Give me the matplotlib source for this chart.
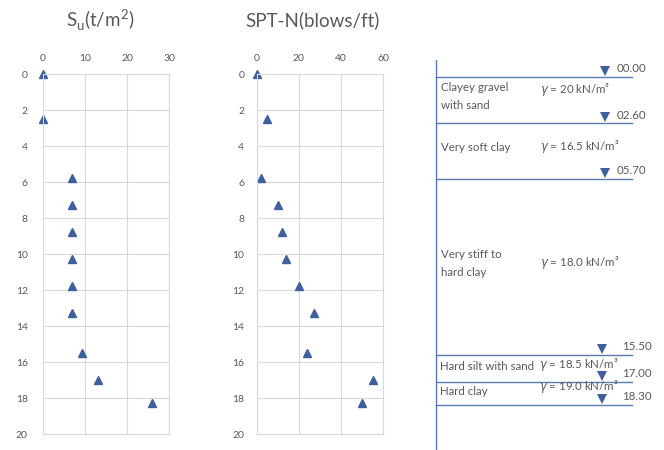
import matplotlib
matplotlib.use('Agg')
import matplotlib.pyplot as plt

plt.rcParams['font.family'] = ['Lato', 'DejaVu Sans']
plt.rcParams['mathtext.fontset'] = 'custom'
plt.rcParams['mathtext.rm'] = 'Lato'

# depth (m) of each test
depth = [0.0, 2.5, 5.75, 7.25, 8.75, 10.25, 11.75, 13.25, 15.5, 17.0, 18.3]
su = [0, 0, 6.8, 6.8, 6.8, 6.8, 6.8, 6.8, 9.4, 13.2, 25.9]
spt = [0, 5, 2, 10, 12, 14, 20, 27, 24, 55, 50]

# soil profile
layer_top = [0.0, 2.6, 5.7, 15.5, 17.0]
layer_bot = [2.6, 5.7, 15.5, 17.0, 18.3]
layer_name = ['Clayey gravel\nwith sand', 'Very soft clay', 'Very stiff to\nhard clay',
              'Hard silt with sand', 'Hard clay']
layer_gamma = ['20', '16.5', '18.0', '18.5', '19.0']
levels = [0.0, 2.6, 5.7, 15.5, 17.0, 18.3]
level_lbl = ['00.00', '02.60', '05.70', '15.50', '17.00', '18.30']

grey = '#595959'
blue = '#3f5fa0'
line_c = '#5a7bb0'

fig = plt.figure(figsize=(6.64, 4.5), dpi=100)


def depth_axes(rect, x, xmax, xstep, pad):
    ax = fig.add_axes(rect)
    ax.plot(x, depth, linestyle='none', marker='^', color=blue, markersize=5.5, clip_on=False)
    ax.set_xlim(0, xmax)
    ax.set_ylim(20, 0)
    ax.set_xticks(range(0, xmax + 1, xstep))
    ax.set_yticks(range(0, 21, 2))
    ax.xaxis.tick_top()
    ax.tick_params(length=0, labelsize=7.5, colors=grey)
    ax.tick_params(axis='y', pad=pad)
    ax.tick_params(axis='x', pad=8)
    ax.grid(True, color='#d9d9d9', linewidth=0.8)
    for s in ax.spines.values():
        s.set_color('#d9d9d9')
        s.set_linewidth(0.8)
    ax.set_axisbelow(True)
    return ax


depth_axes([43 / 664, 16 / 450, 126 / 664, 360 / 450], su, 30, 10, 11)
depth_axes([256.7 / 664, 16 / 450, 126.6 / 664, 360 / 450], spt, 60, 20, 9)

fig.text(100 / 664, 1 - 20 / 450, r'S$_\mathrm{u}$(t/m$^2$)', ha='center', va='center',
         fontsize=13.5, color=grey)
fig.text(313 / 664, 1 - 20 / 450, 'SPT-N(blows/ft)', ha='center', va='center',
         fontsize=13.5, color=grey)

# soil profile, x in pixels
pr = fig.add_axes([430 / 664, 0, 234 / 664, 390 / 450])
px = 17.93
pr.set_xlim(430, 664)
pr.set_ylim((450 - 76.7) / px, -(76.7 - 60) / px)
pr.axis('off')
pr.plot([436, 436], [pr.get_ylim()[0], pr.get_ylim()[1]], color=line_c, linewidth=1)
for i, d in enumerate(levels):
    pr.plot([436, 632], [d, d], color=line_c, linewidth=1)
    tx = 605 if i < 3 else 601.5
    pr.plot([tx], [d - 0.33], marker='v', color=blue, markersize=6.5, markeredgewidth=0)
    pr.text(tx + 12 if i < 3 else tx + 21, d - 0.45, level_lbl[i], fontsize=8.3, color=grey,
            ha='left', va='center')
for i in range(len(layer_top)):
    mid = (layer_top[i] + layer_bot[i]) / 2
    two = '\n' in layer_name[i]
    pr.text(441 if i < 3 else 440, mid - 0.2 + (0.1 if i >= 3 else 0), layer_name[i],
            fontsize=8.3, color=grey, ha='left', va='center', linespacing=1.75)
    gy = mid - 0.6 if (two and i == 0) else (mid - 0.25 if i < 3 else mid - 0.2 - 0.15 * (i - 3))
    pr.text(540 if i < 3 else 539, gy, r'$\mathit{\gamma}$ = ' + layer_gamma[i] + ' kN/m³',
            fontsize=8.3, color=grey, ha='left', va='center')

fig.savefig('out.png', dpi=100)
